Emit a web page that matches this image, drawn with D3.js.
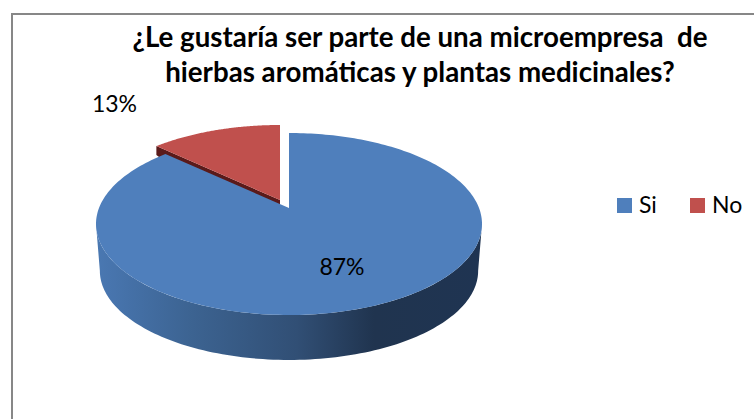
<!DOCTYPE html>
<html><head><meta charset="utf-8">
<script src="https://cdn.jsdelivr.net/npm/d3@7/dist/d3.min.js"></script>
<style>html,body{margin:0;padding:0;background:#fff}svg{display:block}text{font-family:Lato,"Open Sans",sans-serif;fill:#000}</style>
</head><body><svg id="c" width="754" height="419"></svg>
<script>
const categories = ["Si", "No"];
const values = [87, 13];
const labels = ["87%", "13%"];
const titleLines = ["¿Le gustaría ser parte de una microempresa  de", "hierbas aromáticas y plantas medicinales?"];
const colors = ["#4f7fbc", "#c0504d"];

const svg = d3.select("#c");
svg.append("path").attr("d","M12 419V14H754").attr("fill","none").attr("stroke","#878787").attr("stroke-width",2);

const cx=289, cy=208, a=190, b=88.2, k=0.1758;
const depth=47.1, shrink=0.98;
const explode={x:-9,y:-8};
const proj=(t,dx=0,dy=0,bottom=false)=>{ // t: clockwise angle from top
  const u=Math.sin(t), v=Math.cos(t), w=1+k*v;
  let x=a*u/w, y=-b*v/w;
  if(bottom){x*=shrink;y=y*shrink+depth;}
  return [cx+x+dx, cy+y+dy];
};
const arcs=d3.pie().sort(null).value(d=>d)(values);
const samples=(s,e,n=120)=>d3.range(n+1).map(i=>s+(e-s)*i/n);
const line=d3.line();

const defs=svg.append("defs");
const g=defs.append("linearGradient").attr("id","side").attr("gradientUnits","userSpaceOnUse")
  .attr("x1",96).attr("x2",482).attr("y1",0).attr("y2",0);
[[0,"#4a78b2"],[0.08,"#4571a8"],[0.25,"#3c6391"],[0.52,"#314f75"],[0.72,"#20344f"],[1,"#1f3452"]]
  .forEach(s=>g.append("stop").attr("offset",s[0]).attr("stop-color",s[1]));

// red slice (behind)
const r=arcs[1];
const rTop=samples(r.startAngle,r.endAngle).map(t=>proj(t,explode.x,explode.y));
const rApex=[cx+explode.x,cy+explode.y];
const rL=rTop[0];
svg.append("path").attr("fill","#5a1a1a").attr("d",line([rL,rApex,[rApex[0],rApex[1]+depth],[rL[0],rL[1]+9],[rL[0],rL[1]]])+"Z");
svg.append("path").attr("fill",colors[1]).attr("d",line([rApex,...rTop])+"Z");

// blue slice: side wall runs between the two silhouette tangent points
const bl=arcs[0];
const tangent=Math.asin(k);
const front=samples(Math.PI/2+tangent,Math.PI*1.5-tangent);
const sideTop=front.map(t=>proj(t));
const sideBot=front.map(t=>proj(t,0,0,true)).reverse();
svg.append("path").attr("fill","url(#side)").attr("d",line([...sideTop,...sideBot])+"Z");
svg.append("path").attr("fill",colors[0]).attr("d",line([[cx,cy],...samples(bl.startAngle,bl.endAngle,240).map(t=>proj(t))])+"Z");

// labels
svg.append("text").attr("x",342).attr("y",275).attr("text-anchor","middle").attr("font-size",23).text(labels[0]);
svg.append("text").attr("x",114.5).attr("y",112).attr("text-anchor","middle").attr("font-size",23).text(labels[1]);

// title
titleLines.forEach((t,i)=>svg.append("text").attr("x",420).attr("y",47+i*35).attr("text-anchor","middle")
  .attr("font-size",27.7).attr("font-weight",700).style("white-space","pre").text(t));

// legend
const lx=[617,690];
categories.forEach((c,i)=>{
  svg.append("rect").attr("x",lx[i]).attr("y",198).attr("width",15).attr("height",15).attr("fill",colors[i]);
  svg.append("text").attr("x",lx[i]+22).attr("y",213).attr("font-size",23).text(c);
});
</script></body></html>
